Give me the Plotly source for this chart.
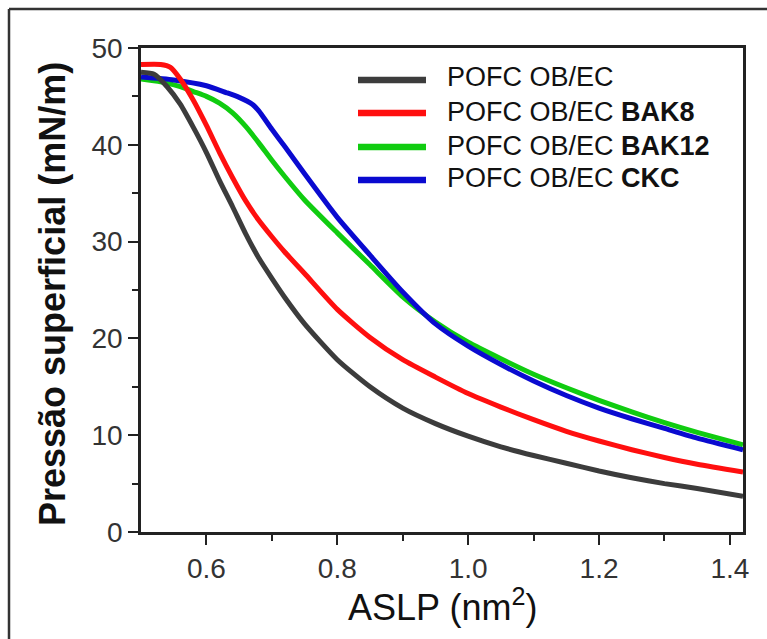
import plotly.graph_objects as go

# ---- data ----
x_black = [0.50, 0.52, 0.54, 0.56, 0.58, 0.60, 0.62, 0.64, 0.66, 0.68, 0.70, 0.72, 0.75, 0.80, 0.85, 0.90, 0.95, 1.00, 1.05, 1.10, 1.15, 1.20, 1.25, 1.30, 1.35, 1.42]
y_black = [47.5, 47.3, 46.0, 44.2, 41.8, 39.2, 36.3, 33.6, 30.8, 28.3, 26.2, 24.2, 21.5, 17.8, 15.0, 12.8, 11.2, 9.9, 8.8, 7.9, 7.1, 6.3, 5.6, 5.0, 4.5, 3.7]

x_red = [0.50, 0.53, 0.545, 0.56, 0.58, 0.60, 0.62, 0.64, 0.66, 0.68, 0.70, 0.72, 0.75, 0.80, 0.85, 0.90, 0.95, 1.00, 1.05, 1.10, 1.15, 1.20, 1.25, 1.30, 1.35, 1.42]
y_red = [48.3, 48.3, 48.0, 46.8, 44.6, 42.0, 39.2, 36.6, 34.2, 32.2, 30.5, 28.9, 26.7, 23.0, 20.1, 17.8, 16.0, 14.3, 12.9, 11.6, 10.4, 9.4, 8.5, 7.7, 7.0, 6.2]

x_green = [0.50, 0.53, 0.56, 0.58, 0.60, 0.62, 0.64, 0.66, 0.68, 0.70, 0.72, 0.75, 0.80, 0.85, 0.90, 0.95, 1.00, 1.05, 1.10, 1.15, 1.20, 1.25, 1.30, 1.35, 1.42]
y_green = [46.8, 46.5, 46.0, 45.5, 45.0, 44.3, 43.3, 41.9, 40.2, 38.4, 36.7, 34.3, 30.9, 27.6, 24.3, 21.7, 19.6, 17.9, 16.3, 14.9, 13.6, 12.4, 11.3, 10.3, 9.0]

x_blue = [0.50, 0.55, 0.60, 0.63, 0.65, 0.67, 0.68, 0.70, 0.72, 0.75, 0.80, 0.85, 0.90, 0.95, 1.00, 1.05, 1.10, 1.15, 1.20, 1.25, 1.30, 1.35, 1.42]
y_blue = [47.0, 46.7, 46.1, 45.4, 44.9, 44.2, 43.5, 41.6, 39.8, 37.0, 32.5, 28.6, 24.8, 21.5, 19.2, 17.3, 15.6, 14.1, 12.8, 11.7, 10.7, 9.7, 8.5]

series_names = ["POFC OB/EC", "POFC OB/EC <b>BAK8</b>", "POFC OB/EC <b>BAK12</b>", "POFC OB/EC <b>CKC</b>"]
series_colors = ["#3c3c3c", "#ff0f0f", "#10cc10", "#0a0ad0"]

x_ticks = [0.6, 0.8, 1.0, 1.2, 1.4]
x_ticklabels = ["0.6", "0.8", "1.0", "1.2", "1.4"]
y_ticks = [0, 10, 20, 30, 40, 50]
y_ticklabels = ["0", "10", "20", "30", "40", "50"]

# ---- layout geometry ----
W, H = 767, 639
L, R, T, B = 141, 743, 48, 532
FONT = "Liberation Sans, Arial, sans-serif"


def px(xp):
    return (xp - L) / (R - L)


def py(yp):
    return (B - yp) / (B - T)


fig = go.Figure()
data = [(x_black, y_black), (x_red, y_red), (x_green, y_green), (x_blue, y_blue)]
for i in [2, 3, 0, 1]:
    xs, ys = data[i]
    fig.add_trace(go.Scatter(x=xs, y=ys, mode="lines", name=series_names[i],
                             line=dict(color=series_colors[i], width=5, shape="spline", smoothing=0.6),
                             showlegend=False))

axis_common = dict(showline=True, linecolor="#222", linewidth=2.5, mirror=True,
                   ticks="outside", ticklen=10, tickwidth=2, tickcolor="#222",
                   showgrid=False, zeroline=False,
                   tickfont=dict(family=FONT, size=28, color="#333"))

fig.update_xaxes(range=[0.5, 1.42], tickvals=x_ticks, ticktext=x_ticklabels,
                 minor=dict(tickvals=[0.7, 0.9, 1.1, 1.3], ticklen=6, tickwidth=2, tickcolor="#222", ticks="outside"),
                 **axis_common)
fig.update_yaxes(range=[0, 50], tickvals=y_ticks, ticktext=y_ticklabels,
                 minor=dict(tickvals=[5, 15, 25, 35, 45], ticklen=6, tickwidth=2, tickcolor="#222", ticks="outside"),
                 **axis_common)

shapes = []
annotations = []
# manual legend
leg_line_y = [80, 113, 147, 180]
leg_text_y = [77, 112, 146, 178]
for i in range(4):
    shapes.append(dict(type="line", xref="paper", yref="paper",
                       x0=px(358), x1=px(426), y0=py(leg_line_y[i]), y1=py(leg_line_y[i]),
                       line=dict(color=series_colors[i], width=6.5)))
    annotations.append(dict(xref="paper", yref="paper", x=px(445), y=py(leg_text_y[i]),
                            xanchor="left", yanchor="middle", showarrow=False,
                            text=series_names[i], font=dict(family=FONT, size=27, color="#111")))

# outer frame (top and left)
shapes.append(dict(type="line", xref="paper", yref="paper", x0=px(9), x1=px(W + 5), y0=py(9), y1=py(9),
                   line=dict(color="#333", width=2.5)))
shapes.append(dict(type="line", xref="paper", yref="paper", x0=px(9), x1=px(9), y0=py(9), y1=py(H + 5),
                   line=dict(color="#333", width=2.5)))

# axis titles
annotations.append(dict(xref="paper", yref="paper", x=px(442), y=py(605), xanchor="center", yanchor="middle",
                        showarrow=False, text="ASLP (nm<sup>2</sup>)",
                        font=dict(family=FONT, size=36, color="#111")))
annotations.append(dict(xref="paper", yref="paper", x=px(52), y=py(294), xanchor="center", yanchor="middle",
                        showarrow=False, textangle=-90, text="<b>Pressão superficial (mN/m)</b>",
                        font=dict(family=FONT, size=36, color="#111")))

fig.update_layout(width=W, height=H, margin=dict(l=L, r=W - R, t=T, b=H - B),
                  paper_bgcolor="white", plot_bgcolor="white",
                  shapes=shapes, annotations=annotations, showlegend=False)

fig.write_html("out.html")
